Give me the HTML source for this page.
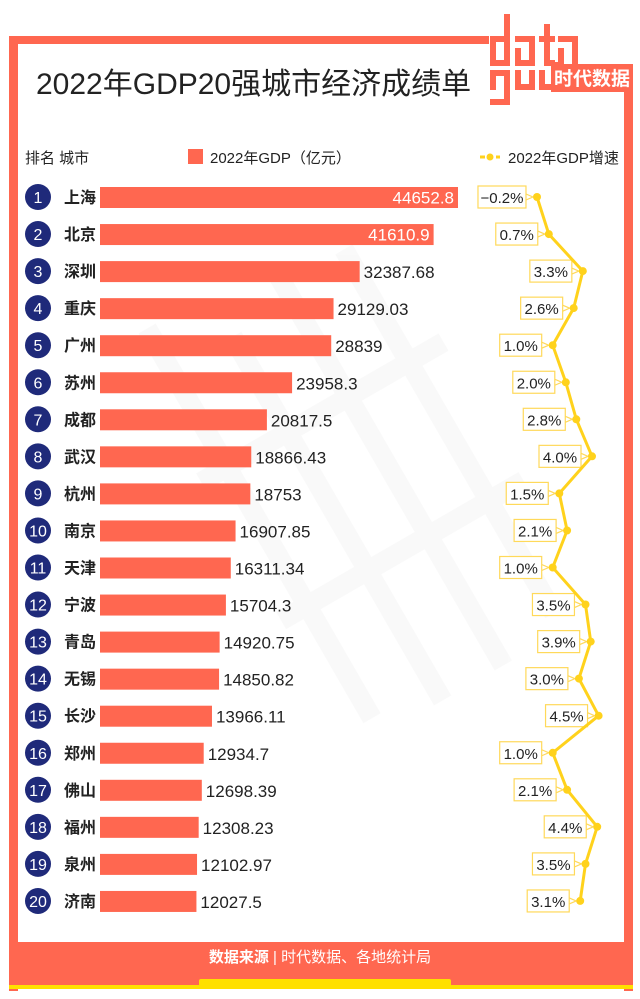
<!DOCTYPE html>
<html><head><meta charset="utf-8"><style>
html,body{margin:0;padding:0;background:#fff;}
svg{display:block;font-family:"Liberation Sans","Noto Sans CJK SC",sans-serif;}
</style></head><body>
<svg width="640" height="999" viewBox="0 0 640 999" xmlns="http://www.w3.org/2000/svg">
<rect x="0" y="0" width="640" height="999" fill="#fff"/>
<rect x="9" y="36" width="480" height="8" fill="#ff6750"/>
<rect x="9" y="36" width="9" height="955" fill="#ff6750"/>
<rect x="624" y="78" width="9" height="913" fill="#ff6750"/>
<rect x="9" y="942" width="624" height="45" fill="#ff6750"/>
<rect x="9" y="985" width="624" height="4" fill="#ffe000"/>
<rect x="199" y="979" width="252" height="8" rx="2" fill="#ffe000"/>
<g fill="#ff6750">
<rect x="504" y="14" width="6" height="52"/><rect x="490" y="36" width="20" height="6"/><rect x="490" y="36" width="6" height="30"/><rect x="490" y="60" width="20" height="6"/>
<rect x="515" y="36" width="20" height="6"/><rect x="529" y="36" width="6" height="30"/><rect x="515" y="48" width="6" height="18"/><rect x="515" y="60" width="20" height="6"/>
<rect x="544" y="24" width="6" height="42"/><rect x="539" y="36" width="16" height="6"/><rect x="544" y="60" width="11" height="6"/>
<rect x="558" y="36" width="20" height="6"/><rect x="572" y="36" width="6" height="30"/><rect x="558" y="48" width="6" height="18"/>
<rect x="490" y="70" width="6" height="20"/><rect x="490" y="70" width="20" height="6"/><rect x="504" y="70" width="6" height="35"/><rect x="490" y="99" width="20" height="6"/>
<rect x="515" y="70" width="6" height="20"/><rect x="529" y="70" width="6" height="20"/><rect x="515" y="84" width="20" height="6"/>
<rect x="539" y="70" width="6" height="20"/><rect x="553" y="62" width="6" height="28"/><rect x="539" y="84" width="20" height="6"/>
<rect x="551" y="64" width="82" height="28"/>
</g>
<text x="592" y="85" font-size="19" fill="#fff" text-anchor="middle" font-weight="bold">时代数据</text>
<g fill="#f5f5f5" opacity="0.5" transform="rotate(-30 350 500)">
<rect x="250" y="250" width="20" height="450"/><rect x="320" y="300" width="20" height="420"/><rect x="390" y="260" width="20" height="460"/><rect x="460" y="280" width="20" height="420"/><rect x="230" y="400" width="280" height="20"/><rect x="230" y="560" width="280" height="20"/>
</g>
<text x="36" y="94" font-size="30" fill="#222">2022年GDP20强城市经济成绩单</text>
<text x="25" y="163" font-size="15" fill="#222">排名  城市</text>
<rect x="188" y="149" width="15" height="15" fill="#ff6750"/>
<text x="210" y="163" font-size="15" fill="#222">2022年GDP（亿元）</text>
<line x1="480" y1="157" x2="500" y2="157" stroke="#ffd21c" stroke-width="3" stroke-dasharray="5 3"/>
<circle cx="490" cy="157" r="3.5" fill="#ffd21c"/>
<text x="508" y="163" font-size="15" fill="#222">2022年GDP增速</text>
<g id="rows"></g>
</svg>
<script>
var d=[["上海",44652.8,"44652.8",-0.2],["北京",41610.9,"41610.9",0.7],["深圳",32387.68,"32387.68",3.3],["重庆",29129.03,"29129.03",2.6],["广州",28839,"28839",1.0],["苏州",23958.3,"23958.3",2.0],["成都",20817.5,"20817.5",2.8],["武汉",18866.43,"18866.43",4.0],["杭州",18753,"18753",1.5],["南京",16907.85,"16907.85",2.1],["天津",16311.34,"16311.34",1.0],["宁波",15704.3,"15704.3",3.5],["青岛",14920.75,"14920.75",3.9],["无锡",14850.82,"14850.82",3.0],["长沙",13966.11,"13966.11",4.5],["郑州",12934.7,"12934.7",1.0],["佛山",12698.39,"12698.39",2.1],["福州",12308.23,"12308.23",4.4],["泉州",12102.97,"12102.97",3.5],["济南",12027.5,"12027.5",3.1]];
var g=document.getElementById("rows"),s="",pts=[];
d.forEach(function(r,i){
 var y=197+i*37.05,w=r[1]*358/44652.8,gx=539.6+13.1*r[3];
 pts.push(gx.toFixed(1)+","+y.toFixed(1));
 s+='<circle cx="38" cy="'+y+'" r="13" fill="#1f2a7a"/>';
 s+='<text x="38" y="'+(y+6)+'" font-size="16" fill="#fff" text-anchor="middle">'+(i+1)+'</text>';
 s+='<text x="64" y="'+(y+6)+'" font-size="16" fill="#222" font-weight="bold">'+r[0]+'</text>';
 s+='<rect x="100" y="'+(y-10)+'" width="'+w+'" height="21" fill="#ff6750"/>';
 if(i<2) s+='<text x="'+(100+w-4)+'" y="'+(y+6.5)+'" font-size="17" fill="#fff" text-anchor="end">'+r[2]+'</text>';
 else s+='<text x="'+(100+w+4)+'" y="'+(y+7)+'" font-size="17" fill="#222">'+r[2]+'</text>';
 var lbl=(r[3]<0?"−0.2":r[3].toFixed(1))+"%",bw=r[3]<0?48:42,bx=gx-11-bw;
 s+='<rect x="'+bx+'" y="'+(y-11)+'" width="'+bw+'" height="22" fill="#fff" stroke="#ffd95a" stroke-width="1.2"/>';
 s+='<polyline points="'+(bx+bw)+','+(y-3)+' '+(gx-4)+','+y+' '+(bx+bw)+','+(y+3)+'" fill="none" stroke="#ffd95a" stroke-width="1.2"/>';
 s+='<text x="'+(bx+bw/2)+'" y="'+(y+6)+'" font-size="15" fill="#222" text-anchor="middle">'+lbl+'</text>';
});
s+='<polyline points="'+pts.join(" ")+'" fill="none" stroke="#ffd21c" stroke-width="3"/>';
pts.forEach(function(p){var a=p.split(",");s+='<circle cx="'+a[0]+'" cy="'+a[1]+'" r="4" fill="#ffd21c"/>';});
s+='<text x="320" y="962" font-size="15" fill="#fff" text-anchor="middle"><tspan font-weight="bold">数据来源</tspan> | 时代数据、各地统计局</text>';
g.innerHTML=s;
</script>
</body></html>
